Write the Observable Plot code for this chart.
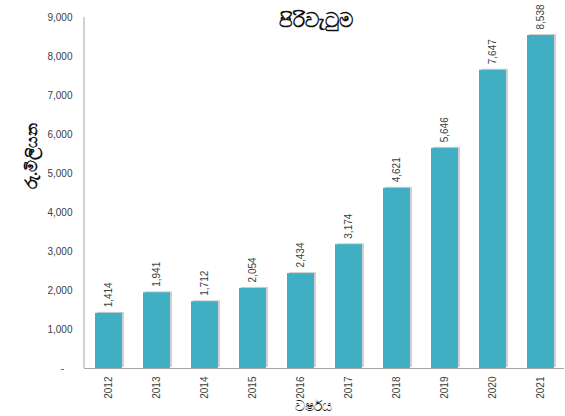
<!DOCTYPE html>
<html><head><meta charset="utf-8">
<script src="https://cdn.jsdelivr.net/npm/d3@7"></script>
<script src="https://cdn.jsdelivr.net/npm/@observablehq/plot@0.6"></script>
<style>
body{margin:0;background:#fff;font-family:"Liberation Sans",Arial,sans-serif;}
#c{position:relative;width:565px;height:416px;}
</style></head>
<body><div id="c"></div>
<script>
const years = ["2012","2013","2014","2015","2016","2017","2018","2019","2020","2021"];
const values = [1414,1941,1712,2054,2434,3174,4621,5646,7647,8538];
const yTicks = [0,1000,2000,3000,4000,5000,6000,7000,8000,9000];
const title = "පිරිවැටුම";
const yLabel = "රු.මිලියන";
const xLabel = "වර්ෂය";

const data = years.map((y,i)=>({year:y, value:values[i]}));
const fmt = d3.format(",");

const chart = Plot.plot({
  width:565, height:416,
  marginLeft:84, marginRight:1, marginTop:17, marginBottom:48,
  style:{fontFamily:"Liberation Sans, Arial, sans-serif", fontSize:"10px", color:"#595959", background:"#fff"},
  x:{domain:years, paddingInner:0.44, paddingOuter:0.22, label:null, axis:null},
  y:{domain:[0,9000], label:null, axis:null},
  marks:[
    Plot.barY(data,{x:"year", y:"value", fill:"#d0d0d0", dx:2, dy:-1}),
    Plot.barY(data,{x:"year", y:"value", fill:"#41AFC3"}),
    Plot.ruleY([0],{stroke:"#a6a6a6", strokeWidth:1}),
    Plot.axisY({ticks:yTicks, tickSize:0, tickPadding:12, tickFormat:d=>d===0?"-\u00a0\u00a0\u00a0":fmt(d), fill:"#404040", fontSize:10}),
    Plot.axisX({tickSize:0, tickRotate:-90, tickPadding:8, fill:"#404040", fontSize:10}),
    Plot.text(data,{x:"year", y:"value", text:d=>fmt(d.value), rotate:-90, textAnchor:"start", dy:-6, fill:"#404040", fontSize:10}),
    Plot.text([title],{frameAnchor:"top", dx:-9, dy:-5, fontSize:20, fontWeight:600, fill:"#111", lineAnchor:"top", fontFamily:"Noto Sans, sans-serif"}),
    Plot.text([yLabel],{frameAnchor:"left", dx:-53, dy:-4, rotate:-90, fontSize:16, fontWeight:600, fill:"#111", fontFamily:"Noto Sans, sans-serif"}),
    Plot.text([xLabel],{frameAnchor:"bottom", dx:-11, dy:42, fontSize:14, fill:"#111", fontFamily:"Noto Sans, sans-serif"})
  ]
});
document.getElementById("c").appendChild(chart);
// y axis line
d3.select(chart).append("line").attr("x1",84).attr("x2",84).attr("y1",17).attr("y2",368).attr("stroke","#a6a6a6");
</script></body></html>
